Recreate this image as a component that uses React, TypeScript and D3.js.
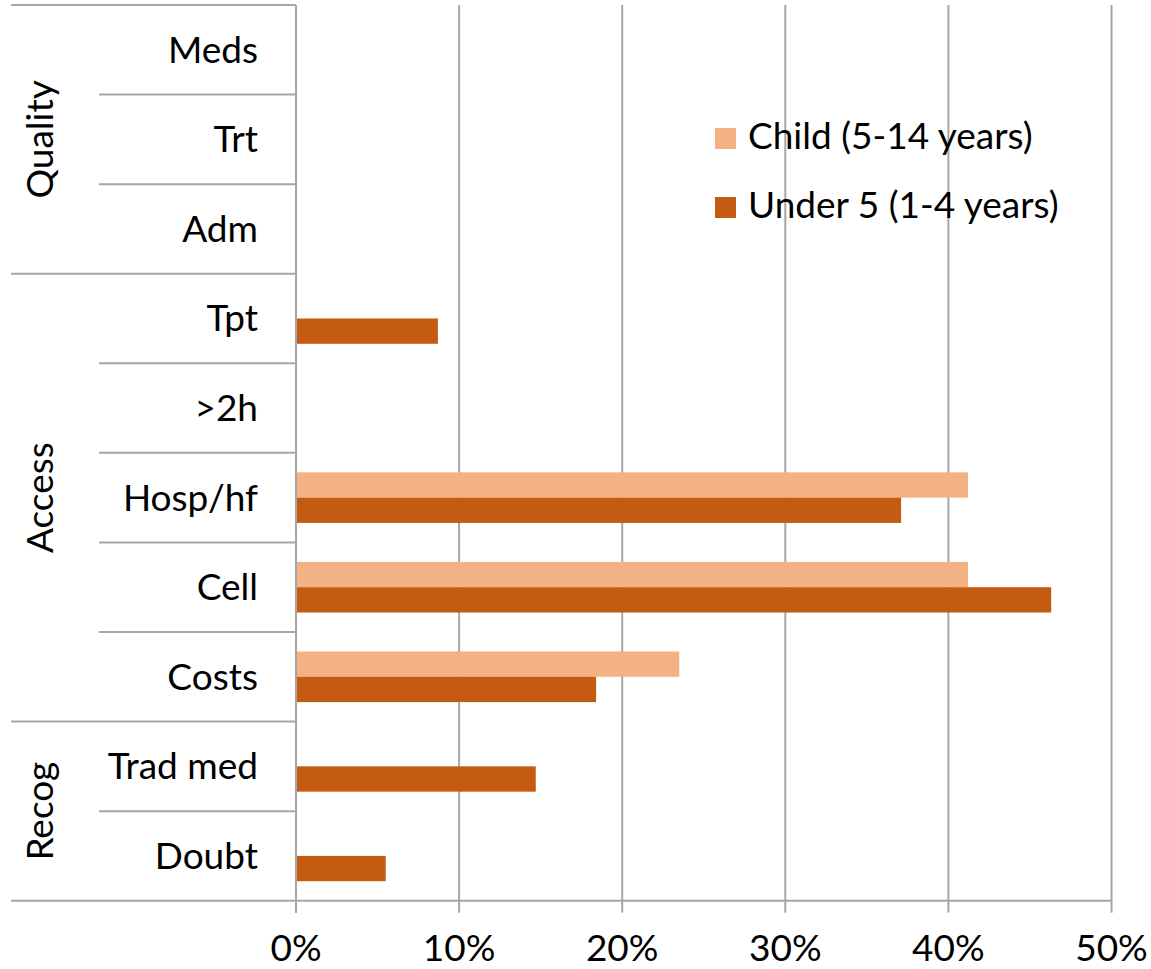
import React from "react";
import * as d3 from "d3";

// Reasons for delay, by category (top to bottom)
const categories = ["Meds", "Trt", "Adm", "Tpt", ">2h", "Hosp/hf", "Cell", "Costs", "Trad med", "Doubt"];

// Category groups shown as rotated labels on the left
const groupNames = ["Quality", "Access", "Recog"];
const groupMembers = [
  ["Meds", "Trt", "Adm"],
  ["Tpt", ">2h", "Hosp/hf", "Cell", "Costs"],
  ["Trad med", "Doubt"],
];

// Series (percent of cases)
const seriesNames = ["Child (5-14 years)", "Under 5 (1-4 years)"];
const childValues = [0, 0, 0, 0, 0, 41.2, 41.2, 23.5, 0, 0];
const under5Values = [0, 0, 0, 8.7, 0, 37.1, 46.3, 18.4, 14.7, 5.5];
const seriesColors = ["#F4B183", "#C55A11"];

const xTicks = [0, 10, 20, 30, 40, 50];

const W = 1151;
const H = 969;
const FONT = "Lato, 'Open Sans', sans-serif";
const FS = 37;
const LINE = "#A6A6A6";

export default function App() {
  const plotLeft = 296;
  const plotRight = 1111.5;
  const plotTop = 5;
  const plotBottom = 900.7;

  const x = d3.scaleLinear().domain([0, 50]).range([plotLeft, plotRight]);
  const y = d3.scaleBand<string>().domain(categories).range([plotTop, plotBottom]).paddingInner(0).paddingOuter(0);
  const rowH = y.bandwidth();
  const barH = rowH / 3.54;
  const inner = d3
    .scaleBand<string>()
    .domain(seriesNames)
    .range([rowH / 2 - barH, rowH / 2 + barH]);

  const series = [childValues, under5Values];

  // Boundaries between categories inside a group, and between groups
  const groupEdges: number[] = [plotTop];
  groupMembers.forEach((m) => {
    groupEdges.push((y(m[m.length - 1]) as number) + rowH);
  });
  const innerEdges: number[] = [];
  groupMembers.forEach((m) => {
    m.slice(1).forEach((c) => innerEdges.push(y(c) as number));
  });

  return (
    <svg
      width={W}
      height={H}
      style={{ position: "absolute", left: 0, top: 0, background: "#fff" }}
      fontFamily={FONT}
    >
      <rect x={0} y={0} width={W} height={H} fill="#fff" />

      {/* vertical gridlines */}
      {xTicks.slice(1).map((t) => (
        <line key={"g" + t} x1={x(t)} x2={x(t)} y1={plotTop} y2={plotBottom} stroke={LINE} strokeWidth={2} />
      ))}

      {/* bars */}
      {series.map((vals, si) =>
        categories.map((c, ci) =>
          vals[ci] > 0 ? (
            <rect
              key={"b" + si + "-" + ci}
              x={x(0)}
              y={(y(c) as number) + (inner(seriesNames[si]) as number)}
              width={x(vals[ci]) - x(0)}
              height={inner.bandwidth()}
              fill={seriesColors[si]}
            />
          ) : null
        )
      )}

      {/* category axis line */}
      <line x1={plotLeft} x2={plotLeft} y1={plotTop} y2={plotBottom + 12} stroke={LINE} strokeWidth={2} />

      {/* group boundaries */}
      {groupEdges.map((e, i) => (
        <line key={"ge" + i} x1={11} x2={plotLeft} y1={e} y2={e} stroke={LINE} strokeWidth={2} />
      ))}
      {innerEdges.map((e, i) => (
        <line key={"ie" + i} x1={99} x2={plotLeft} y1={e} y2={e} stroke={LINE} strokeWidth={2} />
      ))}

      {/* value axis */}
      <line x1={plotLeft} x2={plotRight} y1={plotBottom} y2={plotBottom} stroke={LINE} strokeWidth={2} />
      {xTicks.map((t) => (
        <g key={"t" + t}>
          <line x1={x(t)} x2={x(t)} y1={plotBottom} y2={plotBottom + 12} stroke={LINE} strokeWidth={2} />
          <text x={x(t)} y={960.5} textAnchor="middle" fontSize={FS} fill="#000">
            {t + "%"}
          </text>
        </g>
      ))}

      {/* category labels */}
      {categories.map((c) => (
        <text key={"c" + c} x={258} y={(y(c) as number) + rowH / 2 + 13} textAnchor="end" fontSize={FS} fill="#000">
          {c}
        </text>
      ))}

      {/* group labels */}
      {groupNames.map((g, i) => {
        const cy = (groupEdges[i] + groupEdges[i + 1]) / 2;
        return (
          <text
            key={"gn" + g}
            transform={`translate(53,${cy}) rotate(-90)`}
            textAnchor="middle"
            fontSize={FS}
            fill="#000"
          >
            {g}
          </text>
        );
      })}

      {/* legend */}
      {seriesNames.map((s, i) => (
        <g key={"l" + s} transform={`translate(715,${128 + i * 69})`}>
          <rect x={0} y={0} width={21} height={21} fill={seriesColors[i]} />
          <text x={33} y={21} fontSize={FS} fill="#000">
            {s}
          </text>
        </g>
      ))}
    </svg>
  );
}
